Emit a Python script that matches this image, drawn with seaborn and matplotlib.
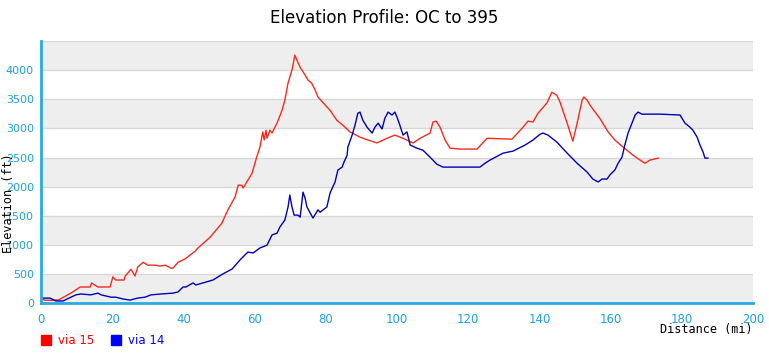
import pandas as pd
import matplotlib.pyplot as plt
import seaborn as sns
from matplotlib.patches import Rectangle

# Route via 15: distance (mi) and elevation (ft)
via15_mi = [0, 1, 3, 5, 8.4, 11, 13.8, 14.2, 16, 19.4, 20.2, 21, 23.3, 23.7, 25.3, 26.4, 27.2,
            28.7, 30, 32, 33.5, 34.9, 36.5, 37.1, 38.5, 40.4, 43.3, 44.1, 47.5, 50.8, 52.5,
            54.5, 55.4, 56.4, 56.8, 57.8, 59.3, 60.6, 61.5, 62.3, 62.7, 63.2, 63.5, 64.3, 64.9,
            65.7, 66.3, 67.7, 68.5, 69.4, 70.5, 70.8, 71.3, 71.9, 72.8, 74.2, 75, 76, 77, 77.8,
            81.2, 83.1, 84.8, 86.8, 89.6, 91.9, 94.4, 97.2, 99.4, 101.7, 104.5, 106.5, 109.3,
            110.1, 111, 112.1, 113.5, 114.9, 117.7, 122.5, 125.3, 132.3, 135.4, 136.8, 138.2,
            139.6, 142.1, 143.5, 144.9, 145.8, 147.8, 149.4, 150.6, 152, 152.5, 153.4, 154.2,
            157, 159.3, 161.2, 163.5, 166.3, 168.3, 169.7, 171, 173.5]
via15_ft = [85, 50, 45, 55, 170, 275, 275, 345, 275, 275, 450, 395, 395, 465, 580, 465, 620,
            700, 650, 650, 635, 650, 600, 600, 700, 755, 890, 945, 1130, 1370, 1600,
            1820, 2025, 2025, 1975, 2080, 2230, 2510, 2680, 2940, 2800, 2970, 2830, 2970, 2920,
            3020, 3090, 3310, 3485, 3780, 4000, 4090, 4260, 4170, 4050, 3915, 3830, 3780, 3660, 3540,
            3310, 3140, 3055, 2940, 2850, 2800, 2750, 2830, 2885, 2830, 2750, 2830, 2920,
            3110, 3125, 3020, 2800, 2660, 2645, 2645, 2830, 2815, 3020, 3125, 3110,
            3260, 3435, 3620, 3570, 3450, 3090, 2780, 3090, 3485, 3540, 3485, 3400,
            3170, 2940, 2800, 2680, 2540, 2455, 2400, 2455, 2490]

# Route via 14
via14_mi = [0, 2.5, 4.2, 6.2, 8.4, 9.8, 11.2, 14, 16, 16.9, 19.7, 21, 23, 25, 27.2, 29.2, 30.9,
            33.7, 37.1, 38.5, 39.9, 40.7, 42.7, 43.5, 48.3, 51.1, 53.7, 55.9, 58.1, 59.6, 61.5,
            63.5, 64.9, 66.3, 67.1, 68.5, 69.4, 69.9, 70.5, 71.1, 72.2, 72.8, 73.6, 74.2, 74.7,
            76.4, 77.8, 78.4, 80.3, 81.2, 82.6, 83.4, 84.6, 85.1, 86, 86.2, 87.4, 88.2, 89, 89.6,
            90.4, 91.6, 93, 93.8, 94.7, 95.8, 96.6, 97.5, 98.6, 99.4, 100, 100.8, 101.7, 102.8,
            103.7, 105.6, 107.3, 109.3, 111.2, 112.9, 121.3, 123.3, 124.7, 126.1, 129.8, 132.6,
            136, 138.2, 140.2, 141, 142.4, 144.9, 147.8, 150.6, 153.4, 155, 156.5, 157.6, 159,
            159.8, 161.2, 162.1, 163.2, 164, 164.9, 166, 166.9, 167.7, 168.8, 173.9, 179.5,
            180.9, 182.3, 183.1, 184.3, 185.1, 186, 186.5, 187.4]
via14_ft = [85, 85, 35, 35, 100, 140, 155, 140, 170, 140, 100, 100, 70, 50, 85, 100, 140,
            155, 170, 190, 275, 275, 345, 310, 395, 500, 585, 740, 875, 860, 945,
            995, 1170, 1200, 1305, 1425, 1650, 1855, 1650, 1510, 1510, 1475, 1905, 1800, 1650,
            1460, 1600, 1560, 1650, 1890, 2080, 2285, 2335, 2420, 2540, 2680, 2885, 3055, 3260, 3280,
            3140, 3020, 2920, 3020, 3090, 2990, 3175, 3280, 3230, 3280, 3195, 3055, 2885, 2940,
            2715, 2660, 2625, 2505, 2385, 2335, 2335, 2335, 2400, 2455, 2575, 2610,
            2715, 2800, 2900, 2920, 2885, 2765, 2575, 2400, 2250, 2130, 2080, 2130, 2130,
            2200, 2285, 2400, 2505, 2715, 2920, 3090, 3230, 3280, 3245, 3245, 3230,
            3090, 3020, 2970, 2850, 2715, 2590, 2490, 2490]

x_ticks = list(range(0, 201, 20))
y_ticks = list(range(0, 4001, 500))

df15 = pd.DataFrame({'Distance': via15_mi, 'Elevation': via15_ft})
df14 = pd.DataFrame({'Distance': via14_mi, 'Elevation': via14_ft})

sns.set_style('white')
plt.rcParams['font.family'] = ['DejaVu Sans']

axis_blue = '#29aae1'
tick_blue = '#1ea0e0'

fig = plt.figure(figsize=(7.69, 3.53), dpi=100)
ax = fig.add_axes([0.0533, 0.1416, 0.9259, 0.742])

# alternating background bands and grid lines
for lo in range(0, 4500, 1000):
    ax.axhspan(lo, lo + 500, color='#eeeeee', zorder=0, lw=0)
for y in range(500, 4501, 500):
    ax.axhline(y, color='#d8d8d8', lw=1, zorder=0.5)

sns.lineplot(data=df15, x='Distance', y='Elevation', color='#f52a1e', lw=1, ax=ax, sort=False)
sns.lineplot(data=df14, x='Distance', y='Elevation', color='#0000b4', lw=1, ax=ax, sort=False)

ax.set_xlim(0, 200)
ax.set_ylim(0, 4500)
ax.set_xticks(x_ticks)
ax.set_yticks(y_ticks)
ax.tick_params(axis='both', colors=axis_blue, labelcolor=tick_blue,
               direction='in', length=5, width=2)
ax.tick_params(axis='x', pad=7, labelsize=8.5)
ax.tick_params(axis='y', length=4, width=1, pad=5, labelsize=8)
for side in ['top', 'right']:
    ax.spines[side].set_visible(False)
for side in ['left', 'bottom']:
    ax.spines[side].set_color(axis_blue)
    ax.spines[side].set_linewidth(2)

ax.set_xlabel('')
ax.set_ylabel('')
fig.text(0.011, 0.425, 'Elevation (ft)', rotation=90, ha='center', va='center',
         family='DejaVu Sans Mono', fontsize=8.5, color='black')
fig.text(0.979, 0.066, 'Distance (mi)', ha='right', va='center',
         family='DejaVu Sans Mono', fontsize=8.5, color='black')
fig.text(0.5, 0.948, 'Elevation Profile: OC to 395', ha='center', va='center',
         fontsize=12, color='black')

# legend
fig.patches.append(Rectangle((41 / 769, 1 - 345 / 353), 10 / 769, 10 / 353,
                             transform=fig.transFigure, color='#ff0000', figure=fig))
fig.text(58 / 769, 1 - 340 / 353, 'via 15', color='#ff0000', fontsize=8.5, va='center')
fig.patches.append(Rectangle((111 / 769, 1 - 345 / 353), 10 / 769, 10 / 353,
                             transform=fig.transFigure, color='#0000ff', figure=fig))
fig.text(128 / 769, 1 - 340 / 353, 'via 14', color='#0000ff', fontsize=8.5, va='center')

fig.savefig('out.png', dpi=100)
